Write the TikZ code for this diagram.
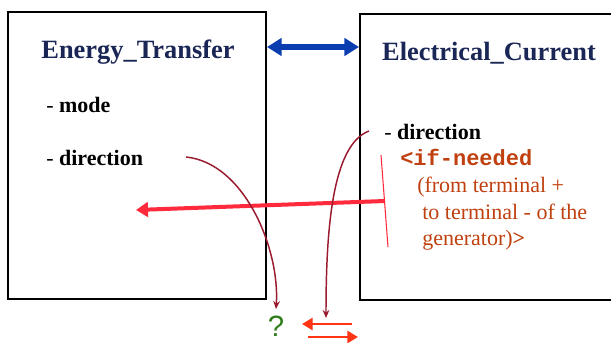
\documentclass[tikz,border=0pt]{standalone}
\usepackage{fontspec}
\setmainfont{Liberation Serif}
\setmonofont{Liberation Mono}
\newfontfamily\qfont{Liberation Sans}
\usetikzlibrary{arrows.meta}
\definecolor{navy}{HTML}{1A2656}
\definecolor{rbrown}{HTML}{C0400F}
\definecolor{dred}{HTML}{9A1A2E}
\definecolor{bred}{HTML}{FF2A3C}
\definecolor{oblue}{HTML}{0A3DB0}
\definecolor{qgreen}{HTML}{2E7D1A}
\definecolor{ored}{HTML}{FF3414}
\begin{document}
\begin{tikzpicture}[x=0.75pt,y=-0.75pt,
  frame/.style={draw=black,line width=0.8pt},
  title/.style={font=\fontsize{19.8}{22}\selectfont\bfseries, text=navy, inner sep=0pt},
  slot/.style={font=\fontsize{16.5}{18}\selectfont, anchor=base west, inner sep=0pt},
  redtxt/.style={font=\fontsize{16.5}{18}\selectfont, text=rbrown, anchor=base west, inner sep=0pt},
  curve/.style={draw=dred, line width=1.1pt, -{Stealth[length=6pt,width=5pt]}}]
\useasboundingbox (0,0) rectangle (611,343);
\fill[white] (0,0) rectangle (611,343);
\path[frame] (8,12) rectangle (266,299);
\path[frame] (360,14) rectangle (615,300);
\coordinate (lbl) at (267,47);
\coordinate (rbl) at (359,47);
\node[title] (et) at (138,52) {Energy\_Transfer};
\node[title] (ec) at (489,53) {Electrical\_Current};
\node[slot] (mode) at (46,112) {- \textbf{mode}};
\node[slot] (dir1) at (46,165) {- \textbf{direction}};
\node[slot] (dir2) at (384,139) {- \textbf{direction}};
\node[redtxt] (ifn) at (400,165) {\texttt{\bfseries <if-needed}};
\node[redtxt] (l1) at (417,192) {(from terminal +};
\node[redtxt] (l2) at (422,219) {to terminal - of the};
\node[redtxt] (l3) at (422,245) {generator)\textbf{>}};
\draw[oblue, line width=4.5pt, {Triangle[length=11pt,width=13pt]}-{Triangle[length=11pt,width=13pt]}] (lbl) -- (rbl);
\coordinate (vt) at (381,155);
\coordinate (vb) at (388,247);
\draw[bred, line width=0.8pt] (vt) -- (vb);
\coordinate (rs) at (385,201);
\coordinate (re) at (136,210);
\draw[bred, line width=3pt, -{Triangle[length=9pt,width=11pt]}] (rs) -- (re);
\coordinate (c1s) at (186,157);
\coordinate (c1e) at (276,309);
\draw[curve] (c1s) .. controls (245,163) and (280,250) .. (c1e);
\coordinate (c2s) at (369,131);
\coordinate (c2e) at (326,318);
\draw[curve] (c2s) .. controls (332,145) and (326,230) .. (c2e);
\node[text=qgreen, font=\fontsize{22}{24}\selectfont\qfont, inner sep=0pt, anchor=base] (q) at (276,336) {?};
\coordinate (a1r) at (352,324);
\coordinate (a1l) at (302,324);
\draw[ored, line width=2pt, -{Triangle[length=8pt,width=9pt]}] (a1r) -- (a1l);
\coordinate (a2l) at (308,337);
\coordinate (a2r) at (358,337);
\draw[ored, line width=2pt, -{Triangle[length=8pt,width=9pt]}] (a2l) -- (a2r);
\end{tikzpicture}
\end{document}
